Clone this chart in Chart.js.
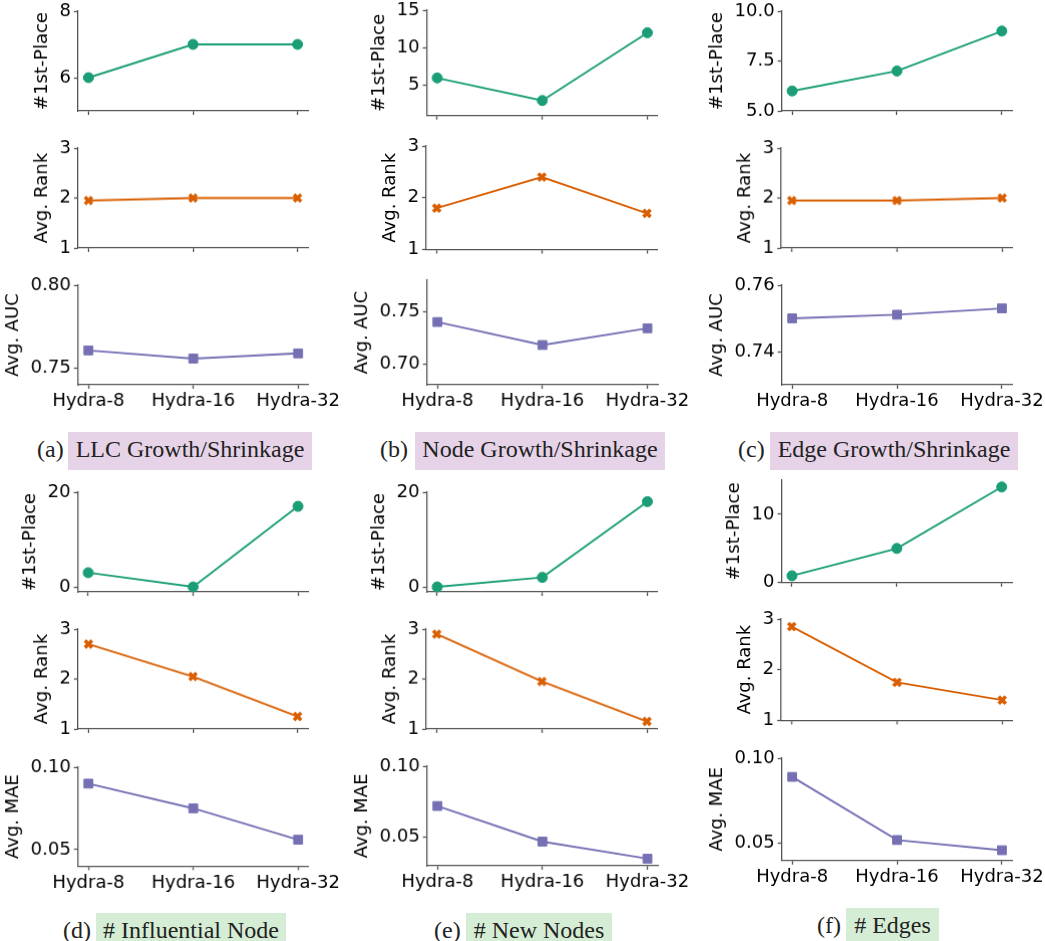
<!DOCTYPE html>
<html>
<head>
<meta charset="utf-8">
<script src="https://cdn.jsdelivr.net/npm/chart.js@4.4.1/dist/chart.umd.min.js"></script>
<style>
  html, body { margin: 0; padding: 0; background: #fff; }
  #page { position: relative; width: 1045px; height: 941px; overflow: hidden; background: #fff; }
  .plot { position: absolute; }
  .tag { position: absolute; font-family: 'Liberation Serif', 'Times New Roman', serif; font-size: 24px; color: #222; line-height: 34px; white-space: nowrap; }
  .box { text-align: center; }
</style>
</head>
<body>
<div id="page"></div>
<script>
// Categories shared by every subplot
const categories = ['Hydra-8', 'Hydra-16', 'Hydra-32'];

// (a) LLC Growth/Shrinkage
const llcFirst = [6, 7, 7];
const llcRank = [1.95, 2.0, 2.0];
const llcAuc = [0.7607, 0.7558, 0.7589];

// (b) Node Growth/Shrinkage
const nodeFirst = [6, 3, 12];
const nodeRank = [1.8, 2.4, 1.7];
const nodeAuc = [0.740, 0.718, 0.734];

// (c) Edge Growth/Shrinkage
const edgeFirst = [6, 7, 9];
const edgeRank = [1.95, 1.95, 2.0];
const edgeAuc = [0.750, 0.7511, 0.753];

// (d) # Influential Node
const inflFirst = [3, 0, 17];
const inflRank = [2.7, 2.05, 1.25];
const inflMae = [0.090, 0.075, 0.056];

// (e) # New Nodes
const newFirst = [0, 2, 18];
const newRank = [2.9, 1.95, 1.15];
const newMae = [0.072, 0.047, 0.035];

// (f) # Edges
const edgesFirst = [1, 5, 14];
const edgesRank = [2.85, 1.75, 1.4];
const edgesMae = [0.089, 0.052, 0.046];

// y tick labels
const rankTicks = [1, 2, 3];
const llcFirstTicks = [6, 8];
const llcAucTicks = [0.75, 0.80];
const nodeFirstTicks = [5, 10, 15];
const nodeAucTicks = [0.70, 0.75];
const edgeFirstTicks = [5, 7.5, 10];
const edgeAucTicks = [0.74, 0.76];
const countTicks = [0, 20];
const edgesFirstTicks = [0, 10];
const maeTicks = [0.05, 0.10];

Chart.defaults.font.family = "'DejaVu Sans', sans-serif";
Chart.defaults.font.size = 18;
Chart.defaults.color = '#000';

const axisColor = '#555';
const metricStyles = [
    { color: '#1b9e77', pointStyle: 'circle', radius: 5, pointBorder: 1 },
    { color: '#d95f02', pointStyle: 'crossRot', radius: 5, pointBorder: 3.6 },
    { color: '#7570b3', pointStyle: 'rect', radius: 6.2, pointBorder: 1 }
];

// Panel layout: plot area of each subplot in page pixels
const panels = [
    { left: 78, right: 308, rows: [[11, 110], [148, 247], [285, 384]],
      series: [llcFirst, llcRank, llcAuc], labels: ['#1st-Place', 'Avg. Rank', 'Avg. AUC'],
      ranges: [[5, 8], [1, 3], [0.74, 0.80]], ticks: [llcFirstTicks, rankTicks, llcAucTicks], decimals: [0, 0, 2],
      tag: { text: '(a)', x: 37, box: 'LLC Growth/Shrinkage', bx: 68, bw: 244, y: 432, h: 38, bg: '#e6d3e8' } },
    { left: 426.3, right: 656.7, rows: [[10.3, 115], [145.7, 249.3], [280, 384]],
      series: [nodeFirst, nodeRank, nodeAuc], labels: ['#1st-Place', 'Avg. Rank', 'Avg. AUC'],
      ranges: [[1, 15], [1, 3], [0.68, 0.78]], ticks: [nodeFirstTicks, rankTicks, nodeAucTicks], decimals: [0, 0, 2],
      tag: { text: '(b)', x: 380, box: 'Node Growth/Shrinkage', bx: 415, bw: 250, y: 432, h: 38, bg: '#e6d3e8' } },
    { left: 781.3, right: 1012, rows: [[11, 110], [148, 247], [285, 384]],
      series: [edgeFirst, edgeRank, edgeAuc], labels: ['#1st-Place', 'Avg. Rank', 'Avg. AUC'],
      ranges: [[5, 10], [1, 3], [0.73, 0.76]], ticks: [edgeFirstTicks, rankTicks, edgeAucTicks], decimals: [1, 0, 2],
      tag: { text: '(c)', x: 738, box: 'Edge Growth/Shrinkage', bx: 770, bw: 248, y: 432, h: 38, bg: '#e6d3e8' } },
    { left: 78, right: 308, rows: [[492, 591], [629, 728], [766.7, 865]],
      series: [inflFirst, inflRank, inflMae], labels: ['#1st-Place', 'Avg. Rank', 'Avg. MAE'],
      ranges: [[-1.06, 20], [1, 3], [0.04, 0.10]], ticks: [countTicks, rankTicks, maeTicks], decimals: [0, 0, 2],
      tag: { text: '(d)', x: 63, box: '# Influential Node', bx: 96, bw: 190, y: 913, h: 38, bg: '#d6edd5' } },
    { left: 426.3, right: 656.7, rows: [[492, 591], [629, 728], [766, 865]],
      series: [newFirst, newRank, newMae], labels: ['#1st-Place', 'Avg. Rank', 'Avg. MAE'],
      ranges: [[-1.06, 20], [1, 3], [0.03, 0.10]], ticks: [countTicks, rankTicks, maeTicks], decimals: [0, 0, 2],
      tag: { text: '(e)', x: 434, box: '# New Nodes', bx: 466, bw: 146, y: 913, h: 38, bg: '#d6edd5' } },
    { left: 781.3, right: 1012, rows: [[480, 581.7], [619.3, 720.7], [758.3, 860]],
      series: [edgesFirst, edgesRank, edgesMae], labels: ['#1st-Place', 'Avg. Rank', 'Avg. MAE'],
      ranges: [[0, 15], [1, 3], [0.04, 0.10]], ticks: [edgesFirstTicks, rankTicks, maeTicks], decimals: [0, 0, 2],
      tag: { text: '(f)', x: 817, box: '# Edges', bx: 846, bw: 93, y: 908, h: 33, bg: '#d6edd5' } }
];

const page = document.getElementById('page');

function makeConfig(values, style, range, yTicks, decimals, label, showX) {
    const grid = { drawOnChartArea: false, drawTicks: true, tickLength: 4, tickWidth: 1.3, color: axisColor };
    const border = { display: true, color: axisColor, width: 1.3 };
    return {
        type: 'line',
        data: {
            datasets: [{
                data: values.map((v, i) => ({ x: i, y: v })),
                borderColor: style.color,
                backgroundColor: style.color,
                borderWidth: 1.9,
                pointStyle: style.pointStyle,
                pointRadius: style.radius,
                pointBorderWidth: style.pointBorder,
                pointBackgroundColor: style.color,
                pointBorderColor: style.color,
                tension: 0,
                clip: false
            }]
        },
        options: {
            responsive: true,
            maintainAspectRatio: false,
            animation: false,
            events: [],
            layout: { padding: { top: 14, right: 14, bottom: 4, left: 4 } },
            plugins: { legend: { display: false }, tooltip: { enabled: false } },
            scales: {
                x: {
                    type: 'linear',
                    min: -0.1,
                    max: 2.1,
                    afterBuildTicks: s => { s.ticks = categories.map((c, i) => ({ value: i })); },
                    ticks: {
                        display: showX,
                        autoSkip: false,
                        maxRotation: 0,
                        minRotation: 0,
                        padding: 2,
                        color: '#000',
                        callback: v => categories[v]
                    },
                    grid: grid,
                    border: border
                },
                y: {
                    min: range[0],
                    max: range[1],
                    afterBuildTicks: s => { s.ticks = yTicks.map(v => ({ value: v })); },
                    ticks: {
                        padding: 3,
                        color: '#000',
                        callback: v => Number(v).toFixed(decimals)
                    },
                    grid: grid,
                    border: border,
                    title: { display: true, text: label, color: '#000', padding: { top: 0, bottom: 3 } }
                }
            }
        }
    };
}

// Create a chart and move/resize it so its plot area lands on the given rectangle
function placeChart(cfg, left, top, width, height) {
    const holder = document.createElement('div');
    holder.className = 'plot';
    let w = width + 200, h = height + 100;
    holder.style.width = w + 'px';
    holder.style.height = h + 'px';
    const canvas = document.createElement('canvas');
    holder.appendChild(canvas);
    page.appendChild(holder);
    const chart = new Chart(canvas, cfg);
    for (let k = 0; k < 3; k++) {
        const ca = chart.chartArea;
        const nw = ca.left + width + (w - ca.right);
        const nh = ca.top + height + (h - ca.bottom);
        w = nw; h = nh;
        holder.style.width = w + 'px';
        holder.style.height = h + 'px';
        chart.resize(w, h);
    }
    const ca = chart.chartArea;
    holder.style.left = (left - ca.left) + 'px';
    holder.style.top = (top - ca.top) + 'px';
    return chart;
}

function addTag(tag) {
    const t = document.createElement('div');
    t.className = 'tag';
    t.style.left = tag.x + 'px';
    t.style.top = tag.y + 'px';
    t.style.height = tag.h + 'px';
    t.textContent = tag.text;
    page.appendChild(t);
    const b = document.createElement('div');
    b.className = 'tag box';
    b.style.left = tag.bx + 'px';
    b.style.top = tag.y + 'px';
    b.style.width = tag.bw + 'px';
    b.style.height = tag.h + 'px';
    b.style.background = tag.bg;
    b.textContent = tag.box;
    page.appendChild(b);
}

panels.forEach(p => {
    p.rows.forEach((r, i) => {
        const cfg = makeConfig(p.series[i], metricStyles[i], p.ranges[i], p.ticks[i], p.decimals[i], p.labels[i], i === 2);
        placeChart(cfg, p.left, r[0], p.right - p.left, r[1] - r[0]);
    });
    addTag(p.tag);
});
</script>
</body>
</html>
